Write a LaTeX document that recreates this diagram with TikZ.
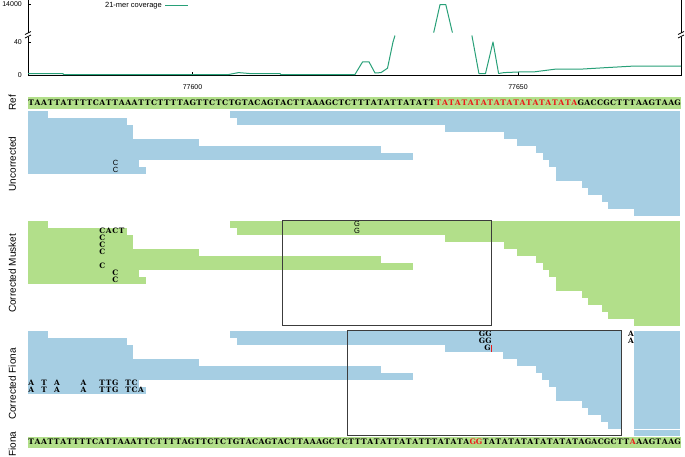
\documentclass[tikz,border=0pt]{standalone}
\usepackage{fontspec}
\setmainfont{Liberation Serif}
\setsansfont{Liberation Sans}
\newfontfamily\seqfont{DejaVu Serif}
\definecolor{readblue}{HTML}{A6CEE3}
\definecolor{readgreen}{HTML}{B2DF8A}
\definecolor{covline}{RGB}{40,160,120}
\definecolor{mmred}{RGB}{235,25,25}
\definecolor{boxgray}{RGB}{60,60,60}
\newcount\seqi
\def\putseq#1#2#3{\seqi=0 \def\seqy{#1}\def\seqw{#2}\putseqA#3\relax}
\def\putseqA#1{\ifx#1\relax\else
  \ifnum`#1>90 \def\seqcol{mmred}\else\def\seqcol{black}\fi
  \node[seqchar,text=\seqcol] at ({28+(\the\seqi+0.5)*\seqw},\seqy) {\uppercase{#1}};%
  \global\advance\seqi by 1
  \expandafter\putseqA\fi}
\tikzset{
  seqchar/.style={inner sep=0pt, font=\seqfont\bfseries\fontsize{7.6}{8}\selectfont},
  mm/.style={inner sep=0pt, font=\seqfont\bfseries\fontsize{7.4}{8}\selectfont},
  mmsans/.style={inner sep=0pt, font=\sffamily\fontsize{7.5}{8}\selectfont},
  panellabel/.style={rotate=90, anchor=base, inner sep=0pt, font=\sffamily\fontsize{10}{10}\selectfont},
  ticklabel/.style={inner sep=0pt, font=\sffamily\fontsize{7}{7}\selectfont},
  axisline/.style={line width=0.8pt, black},
  framebox/.style={draw=boxgray, line width=1pt},
  covpath/.style={draw=covline, line width=1pt, line join=round},
}
\begin{document}
\begin{tikzpicture}[x=1pt,y=-1pt]
\path[use as bounding box] (0,0) rectangle (685,456);

% ---------------- coverage chart ----------------
\draw[axisline] (28,0) -- (28,33) (28,37) -- (28,75) -- (681,75) -- (681,37) (681,33) -- (681,0);
\draw[axisline] (25,34.5) -- (31,31.5) (25,38) -- (31,35);
\draw[axisline] (678,34.5) -- (684,31.5) (678,38) -- (684,35);
\draw[axisline] (28,4.5) -- (31,4.5) (28,42) -- (31,42) (28,75) -- (31,75);
\draw[axisline] (192.5,75) -- (192.5,72) (518,75) -- (518,72);
\node[ticklabel, anchor=east] (y14000) at (22,4.5) {14000};
\node[ticklabel, anchor=east] (y40) at (22,42) {40};
\node[ticklabel, anchor=east] (y0) at (22,75) {0};
\node[ticklabel] (x77600) at (192.5,87) {77600};
\node[ticklabel] (x77650) at (518,87) {77650};
\node[ticklabel, anchor=east, font=\sffamily\fontsize{7.5}{7.5}\selectfont] (legend) at (162,5.5) {21-mer coverage};
\draw[covpath] (165,5.5) -- (188,5.5);

\draw[covpath] (28,73.5) -- (63,73.5) -- (63.5,74.7) -- (227.6,74.7) -- (238.5,72.6) -- (249.5,73.5)
  -- (280,73.5) -- (281,74.7) -- (354.8,74.7) -- (362.6,61.8) -- (369,61.8) -- (375,73) -- (381,72.6)
  -- (387.5,68.2) -- (393,42) -- (395,35.5);
\draw[covpath] (433.7,32.6) -- (440,4.6) -- (445.8,4.6) -- (452.4,32.6);
\draw[covpath] (471.9,35.5) -- (478.9,73.5) -- (485.5,73.5) -- (493,42) -- (498.6,73.5) -- (504,72.6)
  -- (518,72) -- (534.6,71.8) -- (556.5,69) -- (583,69) -- (604.7,67.7) -- (635,66) -- (681,66);

% ---------------- reference sequence ----------------
\fill[readgreen] (28,96.5) rectangle (681,108.5);
\putseq{102.5}{6.465}{TAATTATTTTCATTAAATTCTTTTAGTTCTCTGTACAGTACTTAAAGCTCTTTATATTATATTtatatatatatatatatatataGACCGCTTTAAGTAAG}
\node[panellabel] (lref) at (16,102.5) {Ref};

% ---------------- reads ----------------
% Uncorrected (base 111) and Musket (base 221)
\foreach \base/\col in {111/readblue, 221/readgreen}{
  \foreach \rr/\xa/\xb in {1/28/48.3, 2/28/126.7, 3/28/133.3, 4/28/133.3, 5/28/198.7, 6/28/381,
      7/28/412.7, 8/28/139.3, 9/28/146,
      1/230/680, 2/236.7/680, 3/445.3/680, 4/504/680, 5/516.7/680, 6/536/680, 7/542.7/680,
      8/549.3/680, 9/556/680, 10/556/680, 11/581.7/680, 12/588.3/680, 13/601.7/680, 14/608/680,
      15/634.3/680}{
    \fill[\col] (\xa,{\base+7*(\rr-1)}) rectangle (\xb,{\base+7*\rr});
  }
}
% Fiona (base 331)
\foreach \rr/\xa/\xb in {1/28/48.3, 2/28/126.7, 3/28/133.3, 4/28/133.3, 5/28/198.7, 6/28/381,
    7/28/412.7, 8/28/139.3, 9/28/146,
    1/230/621.7, 2/236.7/621.7, 3/445.3/621.7, 4/503.3/621.7, 5/516.7/621.7, 6/536/621.7,
    7/542.3/621.7, 8/549/621.7, 9/556/621.7, 10/556/621.7, 11/581.7/621.7, 12/588.3/621.7,
    13/601/621.7, 14/607.7/621.7}{
  \fill[readblue] (\xa,{331+7*(\rr-1)}) rectangle (\xb,{331+7*\rr});
}
\fill[readblue] (634.3,331) rectangle (680,429);
\fill[readblue] (634.3,429.6) rectangle (680,436);

% panel labels
\node[panellabel] (lunc) at (16,164) {Uncorrected};
\node[panellabel] (lmus) at (16,273.5) {Corrected Musket};
\node[panellabel] (lfio) at (16,384) {Corrected Fiona};
\node[panellabel] (lfiona) at (16,444) {Fiona};

% mismatches: Uncorrected
\node[mmsans] (u1) at (115.5,163) {C};
\node[mmsans] (u2) at (115.5,170) {C};
% mismatches: Musket
\node[mm] (m1) at (102.2,231) {C};
\node[mm] (m2) at (108.7,231) {A};
\node[mm] (m3) at (115.2,231) {C};
\node[mm] (m4) at (121.6,231) {T};
\node[mm] (m5) at (102.2,238) {C};
\node[mm] (m6) at (102.2,245) {C};
\node[mm] (m7) at (102.2,252) {C};
\node[mm] (m8) at (102.2,266) {C};
\node[mm] (m9) at (115.2,273) {C};
\node[mm] (m10) at (115.2,280) {C};
\node[mmsans] (mg1) at (357.1,224) {G};
\node[mmsans] (mg2) at (357.1,231) {G};
% mismatches: Fiona
\foreach \yy in {383,390}{
  \foreach \xx/\ch in {31.2/A, 44.1/T, 57.0/A, 83.6/A, 102.2/T, 108.7/T, 115.2/G, 128.1/T, 134.5/C}{
    \node[mm] at (\xx,\yy) {\ch};
  }
}
\node[mm] (fa) at (141.0,390) {A};
\node[mm] (fg1) at (482,334) {G};
\node[mm] (fg2) at (488.5,334) {G};
\node[mm] (fg3) at (482,341) {G};
\node[mm] (fg4) at (488.5,341) {G};
\node[mm] (fg5) at (487.5,348) {G};
\fill[mmred] (490.8,345) rectangle (492.2,352);
\node[mm] (fa1) at (631,334) {A};
\node[mm] (fa2) at (631,341) {A};

% boxes
\draw[framebox] (282.7,220.7) rectangle (491,325.3);
\draw[framebox] (347.3,330) rectangle (621.7,435.7);

% ---------------- Fiona sequence ----------------
\fill[readgreen] (28,436.5) rectangle (681,447.5);
\putseq{442}{6.4}{TAATTATTTTCATTAAATTCTTTTAGTTCTCTGTACAGTACTTAAAGCTCTTTATATTATATTTATATAggTATATATATATATATAGACGCTTaAAGTAAG}
\end{tikzpicture}
\end{document}
